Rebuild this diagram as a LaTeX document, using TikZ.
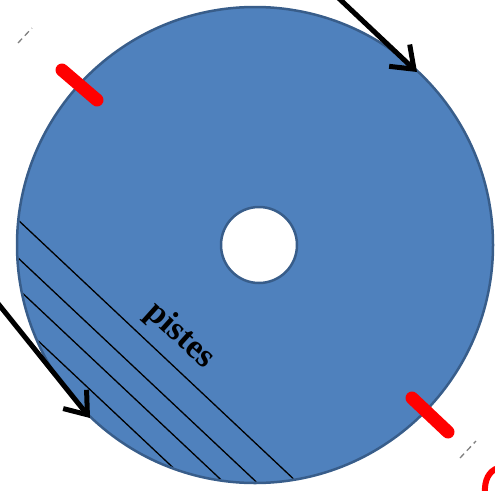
\documentclass[tikz,border=0pt]{standalone}
\usepackage{fontspec}
\setmainfont{Liberation Serif}
\usetikzlibrary{arrows.meta}
\definecolor{discfill}{HTML}{4F81BD}
\definecolor{discline}{HTML}{385D8A}
\tikzset{
  discstyle/.style={circle, fill=discfill, draw=discline, line width=2.5pt, inner sep=0pt},
  track/.style={black, line width=1.3pt},
  marker/.style={red, line width=13pt, line cap=round},
  bigarrow/.style={black, line width=5pt, -{Straight Barb[length=20pt,width=30pt]}},
  faint/.style={gray, line width=1.3pt, dash pattern=on 6pt off 4pt},
}
\begin{document}
\begin{tikzpicture}[x=1pt,y=-1pt]
\useasboundingbox (0,0) rectangle (495,490);
\clip (0,0) rectangle (495,490);
% disc
\node[discstyle, minimum size=476pt] (disc) at (255,245) {};
% tracks
\begin{scope}
  \clip (255,245) circle (236.5);
  \foreach \b in {203,241,272,305}
    \draw[track] (0,\b) -- (340,{\b+0.94*340});
\end{scope}
% hole
\node[discstyle, fill=white, minimum size=76pt] (hole) at (259,245) {};
% label
\node[font=\bfseries\fontsize{34}{34}\selectfont, inner sep=0pt, rotate=-42] (lbl) at (180,336) {pistes};
% red markers
\coordinate (m1a) at (62,70); \coordinate (m1b) at (97,100);
\coordinate (m2a) at (412,398); \coordinate (m2b) at (448,432);
\draw[marker] (m1a) -- (m1b);
\draw[marker] (m2a) -- (m2b);
% arrows
\coordinate (a1s) at (330,-10); \coordinate (a1e) at (417,72);
\coordinate (a2s) at (-8,296); \coordinate (a2e) at (90,418);
\draw[bigarrow] (a1s) -- (a1e);
\draw[bigarrow] (a2s) -- (a2e);
% faint dashes
\coordinate (f1a) at (18,43); \coordinate (f1b) at (32,28);
\coordinate (f2a) at (460,458); \coordinate (f2b) at (476,441);
\draw[faint] (f1a) -- (f1b);
\draw[faint] (f2a) -- (f2b);
% red arc at corner
\coordinate (r1) at (485,494); \coordinate (r2) at (498,468);
\draw[red, line width=6pt] (r1) .. controls (484,480) and (489,471) .. (r2);
\end{tikzpicture}
\end{document}
